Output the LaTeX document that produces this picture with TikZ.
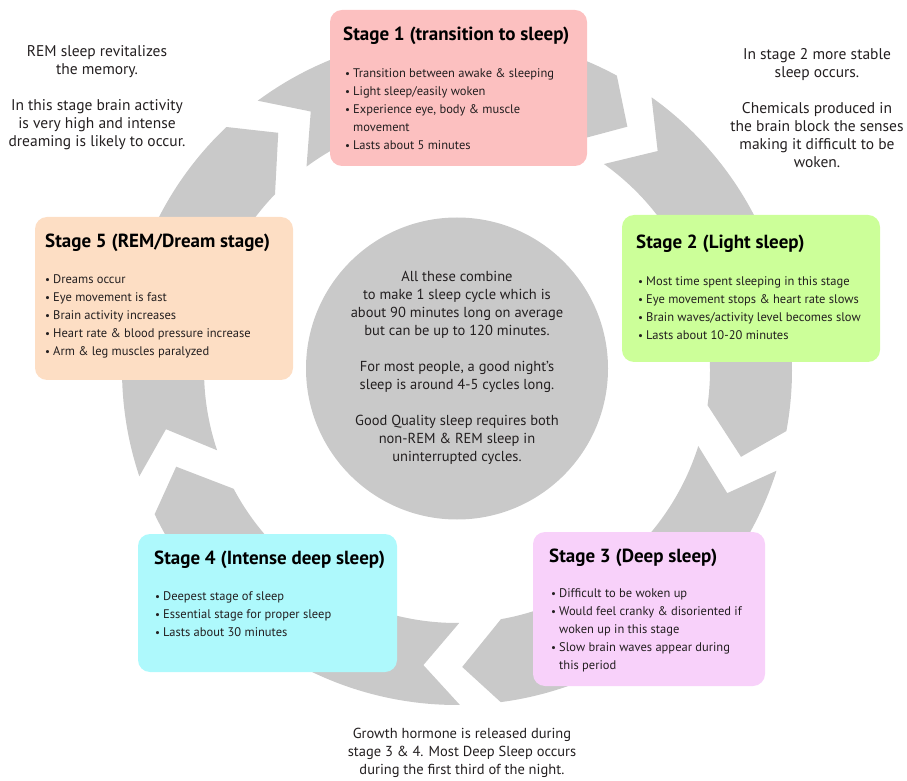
\documentclass[tikz,border=0pt]{standalone}
\usepackage{fontspec}
\setmainfont{PT Sans}
\definecolor{ringgray}{RGB}{201,201,201}
\definecolor{inkgray}{RGB}{35,31,32}
\definecolor{stageone}{RGB}{252,192,192}
\definecolor{stagetwo}{RGB}{204,255,153}
\definecolor{stagethree}{RGB}{248,209,250}
\definecolor{stagefour}{RGB}{174,249,252}
\definecolor{stagefive}{RGB}{253,222,196}
\newcommand{\bitem}{\makebox[8pt][l]{\fontsize{11}{11}\selectfont\textbullet}}
\newcommand{\bcont}{\hspace*{8pt}}

\begin{document}
\begin{tikzpicture}[x=1pt,y=1pt]
\tikzstyle{every node}+=[inner sep=0pt, text=inkgray]
\tikzstyle{stagebox}=[rounded corners=12pt, draw=none]
\tikzstyle{stagetitle}=[anchor=base west, font=\fontsize{19}{22}\selectfont\bfseries, text=black]
\tikzstyle{stagelist}=[anchor=north west, align=left, font=\fontsize{12.5}{18}\selectfont]
\tikzstyle{sidetext}=[align=center, font=\fontsize{14.5}{18}\selectfont]
\tikzstyle{cornertext}=[align=center, font=\fontsize{15.5}{18}\selectfont]
\useasboundingbox (0,0) rectangle (907,780);
\begin{scope}[shift={(457,410)}]
\fill [ringgray] (126.5:335) arc[start angle=126.5, end angle=61.5, radius=335] -- (55:297) -- (64:253) arc[start angle=64, end angle=126.5, radius=253] -- (119.5:297) -- cycle;
\fill [ringgray] (54.5:335) arc[start angle=54.5, end angle=-10.5, radius=335] -- (-17:297) -- (-8:253) arc[start angle=-8, end angle=54.5, radius=253] -- (47.5:297) -- cycle;
\fill [ringgray] (-17.5:335) arc[start angle=-17.5, end angle=-82.5, radius=335] -- (-89:297) -- (-80:253) arc[start angle=-80, end angle=-17.5, radius=253] -- (-24.5:297) -- cycle;
\fill [ringgray] (-89.5:335) arc[start angle=-89.5, end angle=-154.5, radius=335] -- (-161:297) -- (-152:253) arc[start angle=-152, end angle=-89.5, radius=253] -- (-96.5:297) -- cycle;
\fill [ringgray] (-161.5:335) arc[start angle=-161.5, end angle=-226.5, radius=335] -- (-233:297) -- (-224:253) arc[start angle=-224, end angle=-161.5, radius=253] -- (-168.5:297) -- cycle;
\end{scope}
\fill [ringgray] (457,411.5) circle (151);
\node [sidetext] (core) at (457,412) {All these combine\\ to make 1 sleep cycle which is\\ about 90 minutes long on average\\ but can be up to 120 minutes.\\[18pt] For most people, a good night's\\ sleep is around 4-5 cycles long.\\[18pt] Good Quality sleep requires both\\ non-REM \& REM sleep in\\ uninterrupted cycles.};
\node [cornertext] (remnote) at (97,682.5) {REM sleep revitalizes\\ the memory.\\[18pt] In this stage brain activity\\ is very high and intense\\ dreaming is likely to occur.};
\node [cornertext] (lightnote) at (817,672) {In stage 2 more stable\\ sleep occurs.\\[18pt] Chemicals produced in\\ the brain block the senses\\ making it difficult to be\\ woken.};
\node [sidetext] (deepnote) at (462,27) {Growth hormone is released during\\ stage 3 \& 4. Most Deep Sleep occurs\\ during the first third of the night.};
\node [stagebox, fill=stageone, minimum width=257pt, minimum height=156pt] (s1) at (458.5,692) {};
\node [stagetitle] (s1t) at (343,739) {Stage 1 (transition to sleep)};
\node [stagelist] (s1l) at (345,715.6) {\strut\bitem Transition between awake \& sleeping\\ \bitem Light sleep/easily woken\\ \bitem Experience eye, body \& muscle\\ \bcont movement\\ \bitem Lasts about 5 minutes};
\node [stagebox, fill=stagetwo, minimum width=258pt, minimum height=147pt] (s2) at (751,491.5) {};
\node [stagetitle] (s2t) at (636,531) {Stage 2 (Light sleep)};
\node [stagelist] (s2l) at (638,507.6) {\strut\bitem Most time spent sleeping in this stage\\ \bitem Eye movement stops \& heart rate slows\\ \bitem Brain waves/activity level becomes slow\\ \bitem Lasts about 10-20 minutes};
\node [stagebox, fill=stagethree, minimum width=232pt, minimum height=154pt] (s3) at (649,171) {};
\node [stagetitle] (s3t) at (549,218) {Stage 3 (Deep sleep)};
\node [stagelist] (s3l) at (551,195.6) {\strut\bitem Difficult to be woken up\\ \bitem Would feel cranky \& disoriented if\\ \bcont woken up in this stage\\ \bitem Slow brain waves appear during\\ \bcont this period};
\node [stagebox, fill=stagefour, minimum width=259pt, minimum height=138pt] (s4) at (267.5,177) {};
\node [stagetitle] (s4t) at (154,216) {Stage 4 (Intense deep sleep)};
\node [stagelist] (s4l) at (155,192.6) {\strut\bitem Deepest stage of sleep\\ \bitem Essential stage for proper sleep\\ \bitem Lasts about 30 minutes};
\node [stagebox, fill=stagefive, minimum width=258pt, minimum height=163pt] (s5) at (164,481.5) {};
\node [stagetitle] (s5t) at (45,532) {Stage 5 (REM/Dream stage)};
\node [stagelist] (s5l) at (45,509.6) {\strut\bitem Dreams occur\\ \bitem Eye movement is fast\\ \bitem Brain activity increases\\ \bitem Heart rate \& blood pressure increase\\ \bitem Arm \& leg muscles paralyzed};
\end{tikzpicture}
\end{document}
